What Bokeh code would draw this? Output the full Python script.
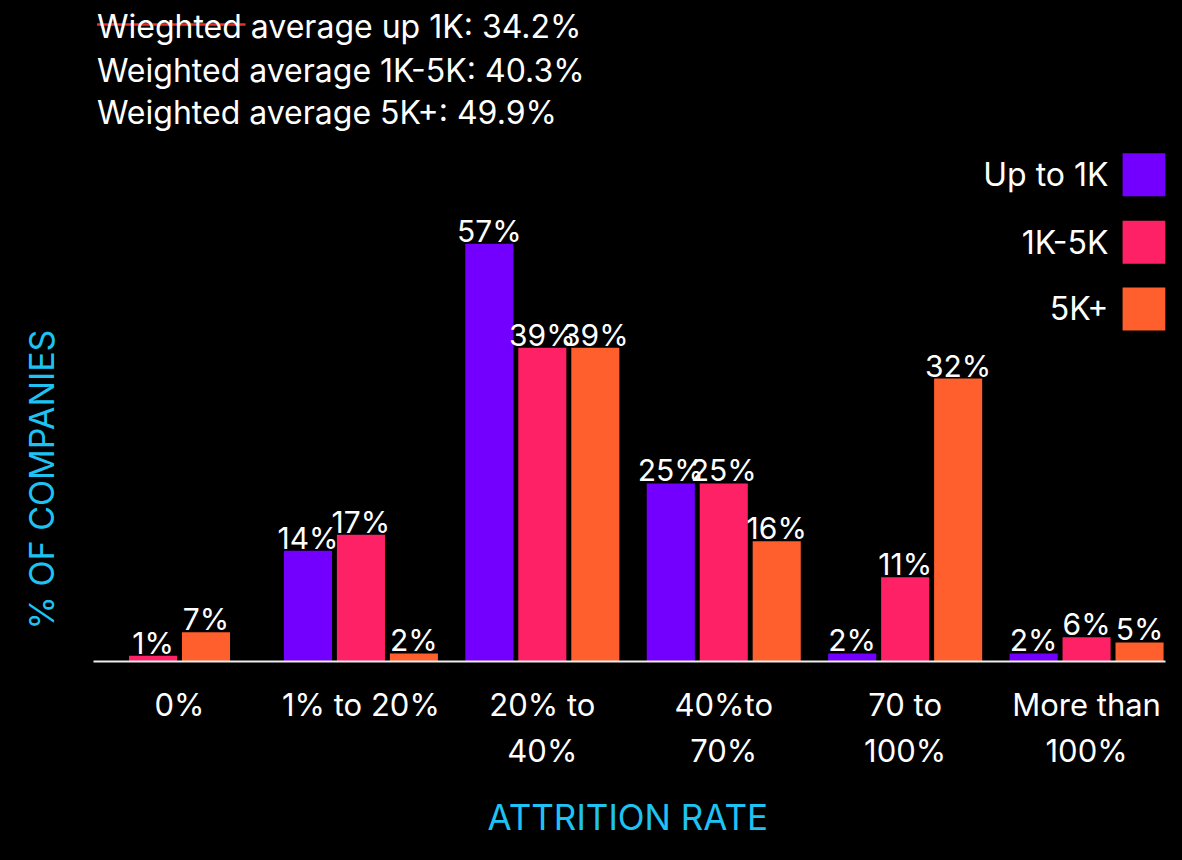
import math
from bokeh.plotting import figure
from bokeh.models import ColumnDataSource, Range1d, FixedTicker, Label, Title
from bokeh.core.properties import value
from bokeh.embed import file_html
from bokeh.resources import INLINE

# ---------------- data ----------------
categories = ["0%", "1% to 20%", "20% to 40%", "40%to 70%", "70 to 100%", "More than 100%"]
tick_labels = ["0%", "1% to 20%", "20% to\n40%", "40%to\n70%", "70 to\n100%", "More than\n100%"]

series_names = ["Up to 1K", "1K-5K", "5K+"]
series_colors = ["#7300FF", "#FF2166", "#FF5E2D"]

# bar heights as drawn in the picture (% of companies)
up_to_1k = [None, 15.1, 57.0, 24.3, 1.1, 1.1]
k1_to_5k = [0.8, 17.3, 42.8, 24.3, 11.5, 3.3]
k5_plus = [4.0, 1.1, 42.8, 16.4, 38.6, 2.6]

# value labels printed above the bars
up_to_1k_labels = ["", "14%", "57%", "25%", "2%", "2%"]
k1_to_5k_labels = ["1%", "17%", "39%", "25%", "11%", "6%"]
k5_plus_labels = ["7%", "2%", "39%", "16%", "32%", "5%"]

summary_lines = [
    "Wieghted average up 1K: 34.2%",
    "Weighted average 1K-5K: 40.3%",
    "Weighted average 5K+: 49.9%",
]

x_title = "ATTRITION RATE"
y_title = "% OF COMPANIES"

# ---------------- styling ----------------
FONT = "Inter"
CYAN = "#1EC3F4"
BAR_W = 0.265
PITCH = 0.292
X_LO, X_HI = -0.474, 5.435   # extent of the x axis rule

series_values = [up_to_1k, k1_to_5k, k5_plus]
series_labels = [up_to_1k_labels, k1_to_5k_labels, k5_plus_labels]

xs, tops, colors, texts = [], [], [], []
for i, _cat in enumerate(categories):
    present = [s for s in range(len(series_names)) if series_values[s][i] is not None]
    n = len(present)
    for k, s in enumerate(present):
        xs.append(i + (k - (n - 1) / 2) * PITCH)
        tops.append(series_values[s][i])
        colors.append(series_colors[s])
        texts.append(series_labels[s][i])

src = ColumnDataSource(dict(x=xs, top=tops, color=colors, label=texts))

p = figure(
    width=1182, height=860,
    output_backend="svg", toolbar_location=None,
    x_range=Range1d(-0.8765, X_HI), y_range=Range1d(0, 90.18),
    y_axis_location=None,
    min_border_left=20, min_border_right=17, min_border_top=0, min_border_bottom=199,
    background_fill_color="black", border_fill_color="black",
    outline_line_color=None,
)
p.xgrid.visible = False
p.ygrid.visible = False

p.vbar(x="x", top="top", width=BAR_W, bottom=0, color="color", line_color=None, source=src)
p.text(x="x", y="top", text="label", source=src,
       text_align="center", text_baseline="alphabetic", y_offset=-13,
       text_color="white", text_font=value(FONT), text_font_size="30px")

ax = p.xaxis[0]
ax.bounds = (X_LO, X_HI)
ax.ticker = FixedTicker(ticks=list(range(len(categories))))
ax.major_label_overrides = {i: t for i, t in enumerate(tick_labels)}
ax.major_tick_line_color = None
ax.minor_tick_line_color = None
ax.axis_line_color = "#EEEEEE"
ax.axis_line_width = 2
ax.major_label_standoff = 18
ax.major_label_text_color = "white"
ax.major_label_text_font = FONT
ax.major_label_text_font_size = "31px"
ax.major_label_text_line_height = 1.25

# x-axis title, below the tick labels
p.add_layout(Title(text=x_title, align="left", offset=467, standoff=44, vertical_align="bottom",
                   text_color=CYAN, text_font=FONT, text_font_size="35px",
                   text_font_style="normal"), "below")

# y-axis title (vertical)
p.add_layout(Label(x=-0.761, y=24.83, text=y_title, angle=math.pi / 2,
                   text_align="center", text_baseline="middle",
                   text_color=CYAN, text_font=FONT, text_font_size="34px"))

# summary lines
for line, yy in zip(summary_lines, [86.6, 80.6, 74.9]):
    p.add_layout(Label(x=-0.455, y=yy, text=line, text_align="left", text_baseline="middle",
                       text_color="white", text_font=FONT, text_font_size="32px"))
# strike through the misspelled word
p.segment(x0=[-0.455], y0=[86.9], x1=[0.364], y1=[86.9], line_color="#E8302E", line_width=2.5)

# legend (label left of swatch)
leg_y = [66.4, 57.2, 48.1]
for name, col, yy in zip(series_names, series_colors, leg_y):
    p.rect(x=[5.317], y=[yy], width=43, height=43, width_units="screen", height_units="screen",
           fill_color=col, line_color=None)
    p.add_layout(Label(x=5.121, y=yy, text=name, text_align="right", text_baseline="middle",
                       text_color="white", text_font=FONT, text_font_size="32px"))

html = file_html(p, INLINE, title="Attrition rate")
cut = html.rfind("</head>")
if cut != -1:
    html = html[:cut] + "<style>html, body { background-color: #000000 !important; }</style>\n" + html[cut:]
open("out.html", "w").write(html)
